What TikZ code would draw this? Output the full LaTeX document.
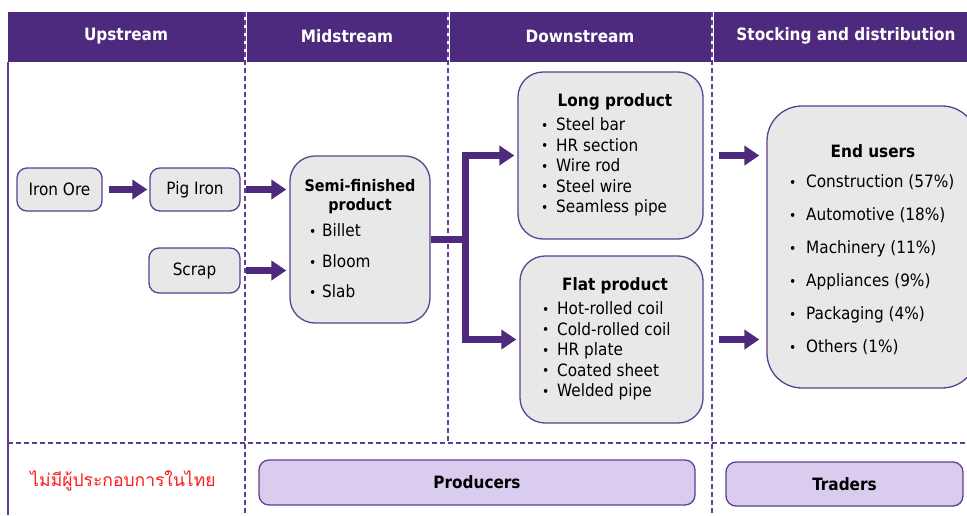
\documentclass[tikz,border=0pt]{standalone}
\usepackage{fontspec}
\setmainfont{DejaVu Sans Condensed}
\newfontfamily\thaifont[Script=Thai]{Loma}
\usetikzlibrary{arrows.meta}
\definecolor{hdrpurple}{HTML}{4E2A7E}
\definecolor{edgepurple}{HTML}{5F3F91}
\definecolor{arrowpurple}{HTML}{4E2A7E}
\definecolor{boxgray}{HTML}{E8E8E8}
\definecolor{lavender}{HTML}{D9CCEE}
\definecolor{thaired}{HTML}{FF1A1A}
% bullet item: small dot in a box of width #1, then the text
\newcommand{\itm}[2]{\makebox[#1][l]{\raisebox{0.6pt}{\scalebox{0.8}{\textbullet}}}#2}
\begin{document}
\begin{tikzpicture}[x=1pt,y=-1pt,
  box/.style={draw=edgepurple, line width=1.3pt, fill=boxgray, rounded corners=#1, inner sep=0pt,
    font=\fontsize{17}{20}\selectfont},
  box/.default=10pt,
  rolebox/.style={draw=edgepurple, line width=1.3pt, fill=lavender, rounded corners=10pt, inner sep=0pt,
    font=\bfseries\fontsize{17}{20}\selectfont},
  body/.style={font=\fontsize{17}{20}\selectfont, inner sep=0pt, anchor=mid west},
  title/.style={font=\bfseries\fontsize{17}{19}\selectfont, inner sep=0pt, align=center},
  hdr/.style={text=white, font=\bfseries\fontsize{17}{20}\selectfont, inner sep=0pt},
  divider/.style={draw=edgepurple, line width=1.2pt, dash pattern=on 5pt off 3pt},
  flow/.style={draw=arrowpurple, line width=6.5pt, line join=miter, -{Triangle[width=19pt,length=15pt]}},
]
\useasboundingbox (0,0) rectangle (967,515);
\fill[white] (0,0) rectangle (967,515);

% header band
\fill[hdrpurple] (8,12) rectangle (967,62);
\foreach \xx in {245,448,712} \draw[white, line width=3pt] (\xx,12) -- (\xx,62);
\node[hdr] (hUp)   at (126,36) {Upstream};
\node[hdr] (hMid)  at (347,36) {Midstream};
\node[hdr] (hDown) at (580,36) {Downstream};
\node[hdr] (hDist) at (846,36) {Stocking and distribution};

% frame and stage dividers
\draw[edgepurple, line width=1.3pt] (8,62) -- (8,515);
\draw[divider] (245,12) -- (245,515);
\draw[divider] (448,12) -- (448,443);
\draw[divider] (712,12) -- (712,515);
\draw[divider] (8,443) -- (967,443);

% upstream
\node[box, minimum width=85, minimum height=43] (iron) at (59.5,189.5) {Iron Ore};
\node[box, minimum width=90, minimum height=43] (pig) at (195,189.5) {Pig Iron};
\node[box, minimum width=91, minimum height=45] (scrap) at (194.5,270.5) {Scrap};

% midstream
\node[box=25pt, minimum width=140, minimum height=167] (semi) at (360,239.5) {};
\node[title, font=\bfseries\fontsize{16}{19}\selectfont] (semiT) at (360,197) {Semi-finished\\product};
\foreach \t/\yy [count=\i] in {Billet/231, Bloom/262, Slab/292}
  \node[body] (semi\i) at (309,\yy+3) {\itm{13pt}{\t}};

% downstream
\node[box=25pt, minimum width=185, minimum height=167] (long) at (610.5,155.5) {};
\node[title] (longT) at (615,102) {Long product};
\foreach \t/\yy [count=\i] in {Steel bar/125, HR section/145.5, Wire rod/166, Steel wire/186.5, Seamless pipe/207}
  \node[body] (long\i) at (541,\yy+3) {\itm{15pt}{\t}};

\node[box=25pt, minimum width=183, minimum height=167] (flat) at (611.5,339.5) {};
\node[title] (flatT) at (615,286) {Flat product};
\foreach \t/\yy [count=\i] in {Hot-rolled coil/309, Cold-rolled coil/329.5, HR plate/350, Coated sheet/370.5, Welded pipe/391}
  \node[body] (flat\i) at (542,\yy+3) {\itm{15pt}{\t}};

% stocking and distribution
\node[box=35pt, minimum width=210, minimum height=282] (ends) at (872,247) {};
\node[title] (endsT) at (873,151) {End users};
\foreach \t/\yy [count=\i] in {Construction (57\%)/182, Automotive (18\%)/215, Machinery (11\%)/248,
    Appliances (9\%)/281, Packaging (4\%)/314, Others (1\%)/347}
  \node[body] (ends\i) at (789,\yy+3) {\itm{17pt}{\t}};

% players
\node[text=thaired, font=\thaifont\fontsize{17.5}{20}\selectfont, inner sep=0pt] (thai) at (123,481) {ไม่มีผู้ประกอบการในไทย};
\node[rolebox, minimum width=436, minimum height=45] (prod) at (477,482.5) {Producers};
\node[rolebox, minimum width=237, minimum height=44] (trad) at (844.5,484) {Traders};

% flows
\draw[flow, shorten <=6pt, shorten >=2pt] (iron.east) -- (pig.west);
\draw[flow, shorten <=5pt, shorten >=3pt] (pig.east) -- (pig.east -| semi.west);
\draw[flow, shorten <=5pt, shorten >=3pt] (scrap.east) -- (scrap.east -| semi.west);
\path (semi.east) ++(35,0) coordinate (split);
\draw[arrowpurple, line width=6.5pt] (semi.east) -- (split);
\draw[flow, shorten >=3pt] (split) |- (long.west);
\draw[flow, shorten >=3pt] (split) |- (flat.west);
\draw[flow, shorten <=15pt, shorten >=7pt] (long.east) -- (long.east -| ends.west);
\draw[flow, shorten <=15pt, shorten >=7pt] (flat.east) -- (flat.east -| ends.west);
\end{tikzpicture}
\end{document}
